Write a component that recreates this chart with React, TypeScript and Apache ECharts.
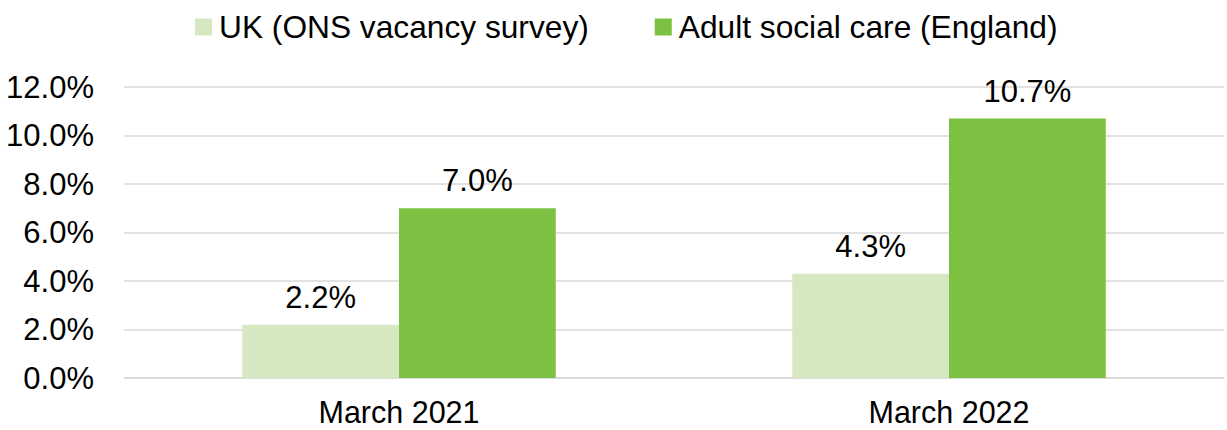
import React, { useEffect, useRef } from "react";
import * as echarts from "echarts";

const categories = ["March 2021", "March 2022"];
const ukValues = [2.2, 4.3];
const ascValues = [7.0, 10.7];
const seriesNames = ["UK (ONS vacancy survey)", "Adult social care (England)"];
const yTicks = { min: 0, max: 12, interval: 2 };

export default function App() {
  const ref = useRef<HTMLDivElement>(null);
  useEffect(() => {
    if (!ref.current) return;
    const chart = echarts.init(ref.current, null, { renderer: "svg" });
    const font = "Liberation Sans, Arial, sans-serif";
    const label = {
      show: true,
      position: "top",
      distance: 12,
      color: "#000",
      fontSize: 31,
      fontFamily: font,
      formatter: (p: any) => Number(p.value).toFixed(1) + "%",
    };
    chart.setOption({
      animation: false,
      legend: {
        top: 11,
        left: 195,
        padding: 0,
        itemWidth: 17,
        itemHeight: 17,
        itemGap: 66,
        icon: "rect",
        textStyle: {
          fontSize: 31.7,
          lineHeight: 32,
          fontFamily: font,
          color: "#000",
          padding: [0, 0, 0, 2],
        },
        data: seriesNames,
      },
      grid: { left: 124, right: 3, top: 87, bottom: 52 },
      xAxis: {
        type: "category",
        data: categories,
        axisLine: { lineStyle: { color: "#D9D9D9", width: 1.5 } },
        axisTick: { show: false },
        axisLabel: {
          fontSize: 30.5,
          lineHeight: 26,
          fontFamily: font,
          color: "#000",
          margin: 21,
        },
      },
      yAxis: {
        type: "value",
        min: yTicks.min,
        max: yTicks.max,
        interval: yTicks.interval,
        axisLine: { show: false },
        axisTick: { show: false },
        splitLine: { lineStyle: { color: "#D9D9D9", width: 1.5 } },
        axisLabel: {
          fontSize: 31,
          fontFamily: font,
          color: "#000",
          margin: 30,
          formatter: (v: number) => v.toFixed(1) + "%",
        },
      },
      series: [
        {
          name: seriesNames[0],
          type: "bar",
          data: ukValues,
          barGap: "0%",
          barCategoryGap: "43%",
          itemStyle: { color: "#D5E8C1" },
          label,
        },
        {
          name: seriesNames[1],
          type: "bar",
          data: ascValues,
          barGap: "0%",
          barCategoryGap: "43%",
          itemStyle: { color: "#7DC142" },
          label,
        },
      ],
    });
    return () => chart.dispose();
  }, []);
  return (
    <div
      ref={ref}
      style={{ position: "fixed", left: 0, top: 0, width: 1227, height: 430, background: "#fff" }}
    />
  );
}
